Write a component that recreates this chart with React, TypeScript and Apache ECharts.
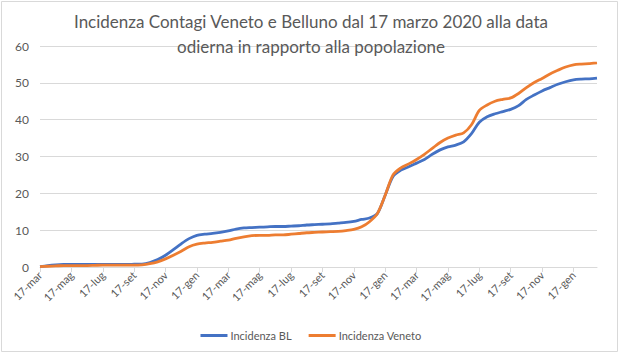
import React, { useEffect, useRef } from "react";
import * as echarts from "echarts";

const titleLines = [
  "Incidenza Contagi Veneto e Belluno dal 17 marzo 2020 alla data",
  "odierna in rapporto alla popolazione",
];

const categories = [
  "17/03/2020", "02/04/2020", "17/04/2020", "02/05/2020", "17/05/2020", "02/06/2020",
  "17/06/2020", "02/07/2020", "17/07/2020", "02/08/2020", "17/08/2020", "02/09/2020",
  "17/09/2020", "02/10/2020", "17/10/2020", "02/11/2020", "17/11/2020", "02/12/2020",
  "17/12/2020", "02/01/2021", "17/01/2021", "02/02/2021", "17/02/2021", "02/03/2021",
  "17/03/2021", "02/04/2021", "17/04/2021", "02/05/2021", "17/05/2021", "02/06/2021",
  "17/06/2021", "02/07/2021", "17/07/2021", "02/08/2021", "17/08/2021", "02/09/2021",
  "17/09/2021", "02/10/2021", "17/10/2021", "02/11/2021", "17/11/2021", "02/12/2021",
  "17/12/2021", "02/01/2022", "17/01/2022", "02/02/2022", "17/02/2022", "02/03/2022",
  "17/03/2022", "02/04/2022", "17/04/2022", "02/05/2022", "17/05/2022", "02/06/2022",
  "17/06/2022", "02/07/2022", "17/07/2022", "02/08/2022", "17/08/2022", "02/09/2022",
  "17/09/2022", "02/10/2022", "17/10/2022", "02/11/2022", "17/11/2022", "02/12/2022",
  "17/12/2022", "02/01/2023", "17/01/2023", "02/02/2023", "17/02/2023", "02/03/2023",
];

const monthNames = ["gen", "feb", "mar", "apr", "mag", "giu", "lug", "ago", "set", "ott", "nov", "dic"];

const incidenzaBL = [
  0.1, 0.4, 0.6, 0.7, 0.7, 0.7, 0.7, 0.7, 0.7, 0.7, 0.7, 0.7,
  0.75, 0.8, 1.2, 2.0, 3.2, 4.7, 6.3, 7.7, 8.6, 8.9, 9.1, 9.4,
  9.8, 10.3, 10.6, 10.7, 10.8, 10.9, 11.0, 11.0, 11.1, 11.2, 11.4, 11.5,
  11.6, 11.7, 11.9, 12.1, 12.4, 12.9, 13.3, 14.5, 19.5, 24.6, 26.3, 27.2,
  28.2, 29.2, 30.6, 31.8, 32.6, 33.1, 34.0, 36.2, 39.3, 40.8, 41.6, 42.2,
  42.8, 43.8, 45.5, 46.7, 47.8, 48.7, 49.6, 50.3, 50.8, 51.0, 51.1, 51.3,
];

const incidenzaVeneto = [
  0.1, 0.2, 0.3, 0.4, 0.4, 0.4, 0.4, 0.45, 0.5, 0.5, 0.5, 0.5,
  0.5, 0.6, 0.9, 1.4, 2.2, 3.2, 4.3, 5.5, 6.2, 6.5, 6.7, 7.0,
  7.3, 7.8, 8.2, 8.5, 8.6, 8.6, 8.7, 8.7, 8.9, 9.1, 9.3, 9.4,
  9.5, 9.6, 9.7, 9.9, 10.2, 10.9, 12.3, 14.5, 19.5, 25.0, 26.9, 28.0,
  29.2, 30.6, 32.2, 33.8, 35.0, 35.8, 36.4, 38.6, 42.5, 44.0, 45.0, 45.5,
  45.9, 47.1, 48.7, 50.1, 51.2, 52.4, 53.4, 54.3, 54.9, 55.1, 55.2, 55.4,
];

const seriesNames = ["Incidenza BL", "Incidenza Veneto"];
const seriesColors = ["#4472C4", "#ED7D31"];

const FONT = "Lato";
const TEXT = "#595959";
const GRID = "#D9D9D9";

export default function App() {
  const ref = useRef<HTMLDivElement>(null);

  useEffect(() => {
    if (!ref.current) return;
    const chart = echarts.init(ref.current, null, { renderer: "svg" });
    chart.setOption({
      animation: false,
      backgroundColor: "#ffffff",
      textStyle: { fontFamily: FONT },
      title: {
        text: titleLines.join("\n"),
        left: "center",
        top: 4,
        textStyle: {
          fontFamily: FONT,
          fontSize: 17,
          fontWeight: "normal",
          color: TEXT,
          lineHeight: 25,
        },
      },
      graphic: [
        {
          type: "rect",
          shape: { x: 1.5, y: 1.5, width: 616, height: 350 },
          style: { fill: "none", stroke: GRID, lineWidth: 1 },
          silent: true,
          z: -1,
        },
      ],
      grid: { left: 40, right: 25, top: 46, bottom: 87, containLabel: false },
      legend: {
        data: seriesNames,
        top: 325,
        left: "center",
        icon: "rect",
        itemWidth: 27,
        itemHeight: 3,
        itemGap: 17,
        textStyle: { fontFamily: FONT, fontSize: 11, color: TEXT, padding: [0, 0, 0, -2] },
      },
      xAxis: {
        type: "category",
        data: categories,
        boundaryGap: false,
        axisLine: { show: true, lineStyle: { color: GRID, width: 1 } },
        axisTick: { show: true, interval: 3, length: 5, lineStyle: { color: GRID } },
        axisLabel: {
          interval: 3,
          rotate: 45,
          fontFamily: FONT,
          fontSize: 11,
          color: TEXT,
          margin: 6,
          formatter: (v: string) => {
            const parts = v.split("/");
            return parseInt(parts[0], 10) + "-" + monthNames[parseInt(parts[1], 10) - 1];
          },
        },
        splitLine: { show: false },
      },
      yAxis: {
        type: "value",
        min: 0,
        max: 60,
        interval: 10,
        axisLine: { show: false },
        axisTick: { show: false },
        axisLabel: { fontFamily: FONT, fontSize: 12, color: TEXT, margin: 11 },
        splitLine: { lineStyle: { color: GRID, width: 1 } },
      },
      series: [
        {
          name: seriesNames[0],
          type: "line",
          data: incidenzaBL,
          smooth: 0.3,
          showSymbol: false,
          symbol: "none",
          color: seriesColors[0],
          lineStyle: { color: seriesColors[0], width: 2.8 },
          z: 2,
        },
        {
          name: seriesNames[1],
          type: "line",
          data: incidenzaVeneto,
          smooth: 0.3,
          showSymbol: false,
          symbol: "none",
          color: seriesColors[1],
          lineStyle: { color: seriesColors[1], width: 2.8 },
          z: 3,
        },
      ],
    });
    return () => chart.dispose();
  }, []);

  return (
    <div
      ref={ref}
      style={{ position: "fixed", left: 0, top: 0, width: 622, height: 354 }}
    />
  );
}
